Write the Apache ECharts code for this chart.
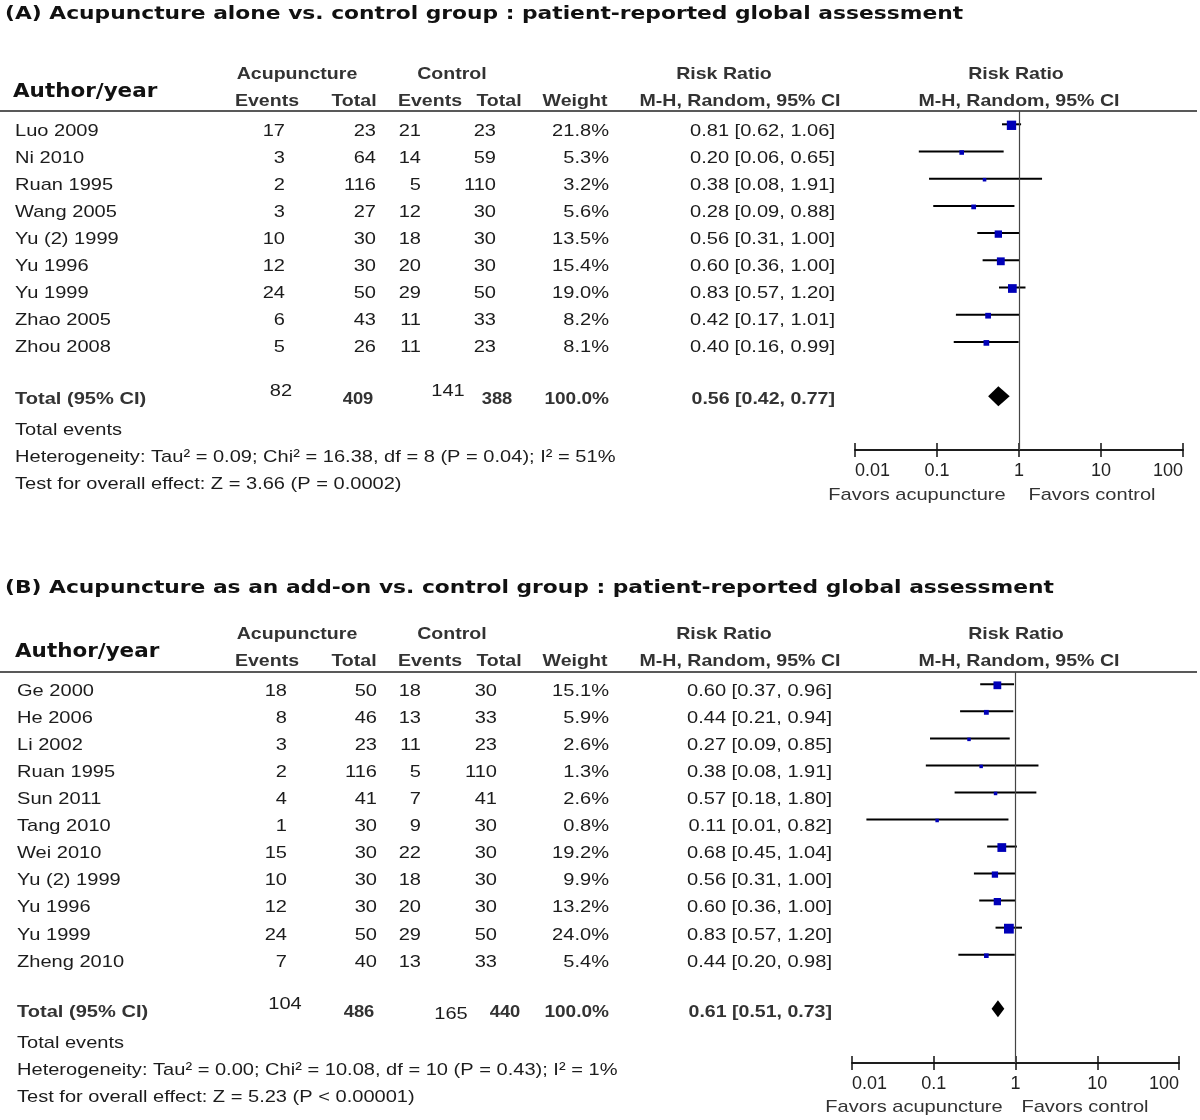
<!DOCTYPE html>
<html>
<head>
<meta charset="utf-8">
<script src="https://cdn.jsdelivr.net/npm/echarts@6/dist/echarts.min.js"></script>
<style>
  html, body { margin: 0; padding: 0; background: #fff; }
  #chart { width: 1200px; height: 1120px; }
</style>
</head>
<body>
<div id="chart"></div>
<script>
// panel A: acupuncture alone vs control
const studiesA = ['Luo 2009', 'Ni 2010', 'Ruan 1995', 'Wang 2005', 'Yu (2) 1999', 'Yu 1996', 'Yu 1999', 'Zhao 2005', 'Zhou 2008']
const acuEventsA = [17, 3, 2, 3, 10, 12, 24, 6, 5]
const acuTotalA = [23, 64, 116, 27, 30, 30, 50, 43, 26]
const ctlEventsA = [21, 14, 5, 12, 18, 20, 29, 11, 11]
const ctlTotalA = [23, 59, 110, 30, 30, 30, 50, 33, 23]
const weightA = [21.8, 5.3, 3.2, 5.6, 13.5, 15.4, 19.0, 8.2, 8.1]
const rrA = [0.81, 0.20, 0.38, 0.28, 0.56, 0.60, 0.83, 0.42, 0.40]
const loA = [0.62, 0.06, 0.08, 0.09, 0.31, 0.36, 0.57, 0.17, 0.16]
const hiA = [1.06, 0.65, 1.91, 0.88, 1.00, 1.00, 1.20, 1.01, 0.99]
const totalA = { acuEv: 82, acuTot: 409, ctlEv: 141, ctlTot: 388, rr: 0.56, lo: 0.42, hi: 0.77 }
const statsA = [
  'Heterogeneity: Tau² = 0.09; Chi² = 16.38, df = 8 (P = 0.04); I² = 51%',
  'Test for overall effect: Z = 3.66 (P = 0.0002)'
]

// panel B: acupuncture as add-on vs control
const studiesB = ['Ge 2000', 'He 2006', 'Li 2002', 'Ruan 1995', 'Sun 2011', 'Tang 2010', 'Wei 2010', 'Yu (2) 1999', 'Yu 1996', 'Yu 1999', 'Zheng 2010']
const acuEventsB = [18, 8, 3, 2, 4, 1, 15, 10, 12, 24, 7]
const acuTotalB = [50, 46, 23, 116, 41, 30, 30, 30, 30, 50, 40]
const ctlEventsB = [18, 13, 11, 5, 7, 9, 22, 18, 20, 29, 13]
const ctlTotalB = [30, 33, 23, 110, 41, 30, 30, 30, 30, 50, 33]
const weightB = [15.1, 5.9, 2.6, 1.3, 2.6, 0.8, 19.2, 9.9, 13.2, 24.0, 5.4]
const rrB = [0.60, 0.44, 0.27, 0.38, 0.57, 0.11, 0.68, 0.56, 0.60, 0.83, 0.44]
const loB = [0.37, 0.21, 0.09, 0.08, 0.18, 0.015, 0.45, 0.31, 0.36, 0.57, 0.20]
const hiB = [0.96, 0.94, 0.85, 1.91, 1.80, 0.82, 1.04, 1.00, 1.00, 1.20, 0.98]
const ciTextB = ['0.60 [0.37, 0.96]', '0.44 [0.21, 0.94]', '0.27 [0.09, 0.85]', '0.38 [0.08, 1.91]', '0.57 [0.18, 1.80]',
  '0.11 [0.01, 0.82]', '0.68 [0.45, 1.04]', '0.56 [0.31, 1.00]', '0.60 [0.36, 1.00]', '0.83 [0.57, 1.20]', '0.44 [0.20, 0.98]']
const totalB = { acuEv: 104, acuTot: 486, ctlEv: 165, ctlTot: 440, rr: 0.61, lo: 0.51, hi: 0.73 }
const statsB = [
  'Heterogeneity: Tau² = 0.00; Chi² = 10.08, df = 10 (P = 0.43); I² = 1%',
  'Test for overall effect: Z = 5.23 (P < 0.00001)'
]

const axisTicks = ['0.01', '0.1', '1', '10', '100']

const ciText = (r, l, h) => `${r.toFixed(2)} [${l.toFixed(2)}, ${h.toFixed(2)}]`
const ciTextA = rrA.map((r, i) => ciText(r, loA[i], hiA[i]))

const FONT = '"Liberation Sans", Arial, sans-serif'
const TXT = '#1c1c1c'
const HEAD = '#333'
const WIDE = 1.18 // the original glyphs are wider than Liberation Sans

function txt(x, y, text, opts = {}) {
  return {
    type: 'text',
    x: x,
    y: y,
    scaleX: opts.scale || WIDE,
    silent: true,
    style: {
      text: text,
      fill: opts.color || TXT,
      font: `${opts.bold ? 'bold ' : ''}${opts.size || 17}px ${opts.family || FONT}`,
      textAlign: opts.align || 'left',
      textVerticalAlign: 'middle',
    },
  }
}

function panelGraphics(p) {
  const els = []
  const dj = '"DejaVu Sans", sans-serif'
  els.push(txt(5, p.titleY, p.title, { bold: true, size: 18, family: dj, color: '#111', scale: 1.21 }))
  els.push(txt(p.nameX - 2, p.headY + 18, 'Author/year', { bold: true, size: 19, family: dj, color: '#111', scale: 1.13 }))
  const hb = { bold: true, align: 'center', color: HEAD, scale: 1.15 }
  els.push(txt(297, p.headY, 'Acupuncture', hb))
  els.push(txt(452, p.headY, 'Control', hb))
  els.push(txt(724, p.headY, 'Risk Ratio', hb))
  els.push(txt(1016, p.headY, 'Risk Ratio', hb))
  const h2 = p.headY + 27
  els.push(txt(267, h2, 'Events', hb))
  els.push(txt(354, h2, 'Total', hb))
  els.push(txt(430, h2, 'Events', hb))
  els.push(txt(499, h2, 'Total', hb))
  els.push(txt(575, h2, 'Weight', hb))
  els.push(txt(740, h2, 'M-H, Random, 95% CI', hb))
  els.push(txt(1019, h2, 'M-H, Random, 95% CI', hb))
  els.push({
    type: 'line', silent: true,
    shape: { x1: 0, y1: p.lineY, x2: 1197, y2: p.lineY },
    style: { stroke: '#222', lineWidth: 1.5 },
  })
  const c = p.cols
  const r = { align: 'right' }
  p.studies.forEach((s, i) => {
    const y = p.rowY + i * 27.1
    els.push(txt(p.nameX, y, s))
    els.push(txt(c.aEv, y, String(p.acuEv[i]), r))
    els.push(txt(c.aTot, y, String(p.acuTot[i]), r))
    els.push(txt(c.cEv, y, String(p.ctlEv[i]), r))
    els.push(txt(c.cTot, y, String(p.ctlTot[i]), r))
    els.push(txt(c.wt, y, p.weight[i].toFixed(1) + '%', r))
    els.push(txt(c.rr, y, p.ci[i], r))
  })
  // total row: the counts sit centred, the events are raised a little
  const t = p.total
  const ty = p.totalY
  const tc = p.totCols
  const cb = { align: 'center', bold: true, color: HEAD, scale: 1.08 }
  els.push(txt(p.nameX, ty, 'Total (95% CI)', { bold: true, color: HEAD, scale: 1.18 }))
  els.push(txt(tc[0], ty - 8, String(t.acuEv), { align: 'center' }))
  els.push(txt(tc[1], ty, String(t.acuTot), cb))
  els.push(txt(tc[2], ty - p.ctlEvShift, String(t.ctlEv), { align: 'center' }))
  els.push(txt(tc[3], ty, String(t.ctlTot), cb))
  els.push(txt(c.wt, ty, '100.0%', { align: 'right', bold: true, color: HEAD, scale: 1.12 }))
  els.push(txt(c.rr, ty, ciText(t.rr, t.lo, t.hi), { align: 'right', bold: true, color: HEAD, scale: 1.15 }))
  els.push(txt(p.nameX, ty + 31, 'Total events'))
  els.push(txt(p.nameX, ty + 58, p.stats[0]))
  els.push(txt(p.nameX, ty + 85, p.stats[1]))
  els.push(txt(p.fav[0], p.fav[2], 'Favors acupuncture', { align: 'center', color: '#333' }))
  els.push(txt(p.fav[1], p.fav[2], 'Favors control', { align: 'center', color: '#333' }))
  return els
}

const panels = [
  {
    title: '(A) Acupuncture alone vs. control group : patient-reported global assessment',
    titleY: 14, headY: 74, lineY: 111, rowY: 131, totalY: 399, nameX: 15, ctlEvShift: 8,
    totCols: [281, 358, 448, 497],
    cols: { aEv: 285, aTot: 376, cEv: 421, cTot: 496, wt: 609, rr: 835 },
    studies: studiesA, acuEv: acuEventsA, acuTot: acuTotalA, ctlEv: ctlEventsA, ctlTot: ctlTotalA,
    weight: weightA, ci: ciTextA, total: totalA, stats: statsA, fav: [917, 1092, 495],
    grid: { left: 855, width: 328, top: 111, height: 339 }, rowPx: 27.2, row0: 124.3,
    rr: rrA, lo: loA, hi: hiA, diamondH: 10,
  },
  {
    title: '(B) Acupuncture as an add-on vs. control group : patient-reported global assessment',
    titleY: 588, headY: 634, lineY: 672, rowY: 691, totalY: 1012, nameX: 17, ctlEvShift: -2,
    totCols: [285, 359, 451, 505],
    cols: { aEv: 287, aTot: 377, cEv: 421, cTot: 497, wt: 609, rr: 832 },
    studies: studiesB, acuEv: acuEventsB, acuTot: acuTotalB, ctlEv: ctlEventsB, ctlTot: ctlTotalB,
    weight: weightB, ci: ciTextB, total: totalB, stats: statsB, fav: [914, 1085, 1107],
    grid: { left: 852, width: 327, top: 672, height: 391 }, rowPx: 27.04, row0: 684.3,
    rr: rrB, lo: loB, hi: hiB, diamondH: 8.5,
  },
]

const grids = []
const xAxes = []
const yAxes = []
const series = []
let graphics = []

panels.forEach((p, gi) => {
  grids.push(p.grid)
  const baseX = {
    type: 'log', logBase: 10, min: 0.01, max: 100, gridIndex: gi,
    axisLine: { show: true, onZero: false, lineStyle: { color: '#111', width: 1.5 } },
    splitLine: { show: false },
    minorTick: { show: false },
  }
  // ticks below the line
  xAxes.push(Object.assign({}, baseX, {
    position: 'bottom',
    axisTick: { show: true, inside: false, length: 7, lineStyle: { color: '#111', width: 1.5 } },
    axisLabel: {
      show: true, margin: 12, color: '#222', fontSize: 18, fontFamily: FONT,
      alignMinLabel: 'left', alignMaxLabel: 'right',
      formatter: (v) => axisTicks.find((t) => Math.abs(parseFloat(t) - v) < v * 1e-6) || '',
    },
  }))
  // ticks above the line: a twin axis moved down onto the bottom edge
  xAxes.push(Object.assign({}, baseX, {
    position: 'top', offset: -p.grid.height,
    axisTick: { show: true, inside: false, length: 7, lineStyle: { color: '#111', width: 1.5 } },
    axisLabel: { show: false },
  }))
  const n = p.studies.length
  const yMin = -(p.row0 - p.grid.top) / p.rowPx
  yAxes.push({
    type: 'value', gridIndex: gi, inverse: true,
    min: yMin, max: yMin + p.grid.height / p.rowPx,
    show: false,
  })
  const xi = gi * 2
  series.push({
    type: 'custom', xAxisIndex: xi, yAxisIndex: gi, silent: true,
    data: p.rr.map((_, i) => [p.lo[i], p.hi[i], i]),
    encode: { x: [0, 1], y: 2 },
    renderItem: (params, api) => {
      const a = api.coord([api.value(0), api.value(2)])
      const b = api.coord([api.value(1), api.value(2)])
      return { type: 'line', shape: { x1: a[0], y1: a[1], x2: b[0], y2: b[1] }, style: { stroke: '#000', lineWidth: 2 } }
    },
    z: 2,
  })
  series.push({
    type: 'scatter', xAxisIndex: xi, yAxisIndex: gi, silent: true,
    symbol: 'rect',
    data: p.rr.map((r, i) => [r, i, p.weight[i]]),
    symbolSize: (v) => Math.max(3.5, Math.sqrt(v[2]) * 2),
    symbolOffset: [0, 1],
    itemStyle: { color: '#0000b8', opacity: 1 },
    markLine: {
      silent: true, symbol: 'none', label: { show: false },
      lineStyle: { color: '#444', type: 'solid', width: 1.2 },
      data: [{ xAxis: 1 }],
    },
    z: 3,
  })
  series.push({
    type: 'custom', xAxisIndex: xi, yAxisIndex: gi, silent: true,
    data: [[p.total.lo, p.total.rr, p.total.hi, n + 1]],
    encode: { x: [0, 2], y: 3 },
    renderItem: (params, api) => {
      const l = api.coord([api.value(0), api.value(3)])
      const m = api.coord([api.value(1), api.value(3)])
      const h = api.coord([api.value(2), api.value(3)])
      const d = p.diamondH
      return {
        type: 'polygon',
        shape: { points: [[l[0], l[1]], [m[0], m[1] - d], [h[0], h[1]], [m[0], m[1] + d]] },
        style: { fill: '#000' },
      }
    },
    z: 3,
  })
  graphics = graphics.concat(panelGraphics(p))
})

const chart = echarts.init(document.getElementById('chart'), null, { renderer: 'canvas' })
chart.setOption({
  backgroundColor: '#fff',
  animation: false,
  grid: grids,
  xAxis: xAxes,
  yAxis: yAxes,
  series: series,
  graphic: graphics,
})
</script>
</body>
</html>
